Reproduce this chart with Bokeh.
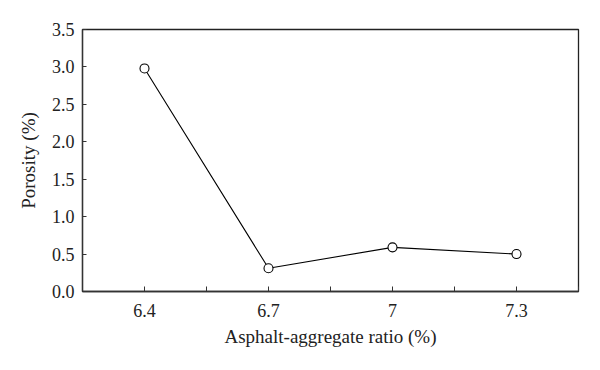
from bokeh.plotting import figure
from bokeh.models import FixedTicker, NumeralTickFormatter, Range1d
from bokeh.embed import file_html
from bokeh.resources import INLINE

ratio = [6.4, 6.7, 7.0, 7.3]
porosity = [2.98, 0.31, 0.59, 0.50]
x_major_ticks = [6.4, 6.7, 7.0, 7.3]
x_minor_ticks = [6.25, 6.55, 6.85, 7.15, 7.45]
y_ticks = [0.0, 0.5, 1.0, 1.5, 2.0, 2.5, 3.0, 3.5]

FONT = "Liberation Serif"

p = figure(width=592, height=354, output_backend="svg", toolbar_location=None,
           x_range=Range1d(6.25, 7.45), y_range=Range1d(0, 3.5),
           min_border_left=82, min_border_right=14, min_border_top=29, min_border_bottom=63)
p.frame_width = 496
p.frame_height = 262

p.line(ratio, porosity, line_color="black", line_width=1.1)
p.scatter(ratio, porosity, size=9, fill_color="white", line_color="black", line_width=1.1)

p.xgrid.visible = False
p.ygrid.visible = False
p.outline_line_color = "#222222"
p.outline_line_width = 1.3
p.background_fill_color = "white"
p.border_fill_color = "white"

xa = p.xaxis[0]
xa.ticker = FixedTicker(ticks=x_major_ticks, minor_ticks=x_minor_ticks)
xa.formatter = NumeralTickFormatter(format="0.[0]")
xa.major_tick_in = 5
xa.major_tick_out = 0
xa.minor_tick_in = 5
xa.minor_tick_out = 0
xa.axis_label = "Asphalt-aggregate ratio (%)"

ya = p.yaxis[0]
ya.ticker = FixedTicker(ticks=y_ticks, minor_ticks=[])
ya.formatter = NumeralTickFormatter(format="0.0")
ya.major_tick_in = 4
ya.major_tick_out = 0
ya.minor_tick_in = 0
ya.minor_tick_out = 0
ya.axis_label = "Porosity (%)"

for ax in (xa, ya):
    ax.axis_line_color = "#333333"
    ax.axis_line_width = 1.3
    ax.major_tick_line_color = "#333333"
    ax.minor_tick_line_color = "#333333"
    ax.major_label_text_font = FONT
    ax.major_label_text_font_size = "18px"
    ax.major_label_text_color = "#222222"
    ax.axis_label_text_font = FONT
    ax.axis_label_text_font_size = "19px"
    ax.axis_label_text_font_style = "normal"
    ax.axis_label_text_color = "#222222"

xa.major_label_standoff = 12
xa.axis_label_standoff = 6
ya.major_label_standoff = 8
ya.axis_label_standoff = 10

open("out.html", "w").write(file_html(p, INLINE))
